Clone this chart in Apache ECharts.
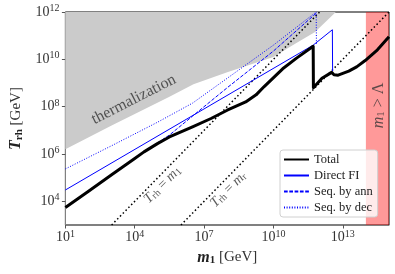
<!DOCTYPE html>
<html><head><meta charset="utf-8">
<script src="https://cdn.jsdelivr.net/npm/echarts@6/dist/echarts.min.js"></script>
<style>html,body{margin:0;padding:0;background:#fff}#c{width:395px;height:274px}</style>
</head><body><div id="c"></div>
<script>
// tick exponents (labels are 10^n)
const xTickExp = [1, 4, 7, 10, 13];
const yTickExp = [4, 6, 8, 10, 12];
// all curve values given as log10(m1/GeV), log10(Trh/GeV)
const totalLogM = [1, 2, 3, 4, 4.4, 5, 5.5, 6.5, 7.3, 8.0, 8.8, 9.25, 9.6, 10.4, 11.0, 11.72, 11.73, 12.1, 12.52, 12.62, 12.8, 13.26, 13.6, 13.97, 14.5, 15];
const totalLogT = [3.74, 4.43, 5.12, 5.81, 6.09, 6.45, 6.72, 7.15, 7.5, 7.85, 8.2, 8.5, 8.85, 9.6, 10.05, 10.55, 8.8, 9.2, 9.45, 9.35, 9.33, 9.5, 9.68, 9.95, 10.4, 10.95];
const directLogM = [1, 11.72, 12.55, 12.56];
const directLogT = [4.48, 10.6, 11.25, 9.5];
const annLogM = [4.4, 5.5, 6.5, 8.0, 10.0, 11.85];
const annLogT = [6.1, 6.8, 7.6, 8.8, 10.35, 11.95];
const decLogM = [1, 3, 5, 6.5, 8.0, 10.0, 11.85, 11.86];
const decLogT = [5.37, 6.35, 7.35, 8.15, 9.2, 10.6, 12.0, 10.65];
const thermLogM = [1, 3, 5.46, 6.54, 8.0, 10.0, 10.83, 11.8, 12.7];
const thermLogT = [6.2, 7.2, 8.4, 8.95, 9.45, 10.1, 10.6, 11.15, 12.0];
const trhEqM1LogM = [3, 12];
const trhEqM1LogT = [3, 12];
const trhEqMrLogM = [6, 15];
const trhEqMrLogT = [3, 12];
const lambdaLogM = [14, 15];
const legendNames = ['Total', 'Direct FI', 'Seq. by ann', 'Seq. by dec'];

const F = 'Liberation Serif';
const pairs = (xs, ys) => xs.map((x, i) => [Math.pow(10, x), Math.pow(10, ys[i])]);
const supFmt = v => '{b|10}{s|' + Math.round(Math.log10(v)) + '}';
const tickRich = {
  b: { fontSize: 14, fontFamily: F, color: '#333' },
  s: { fontSize: 10, fontFamily: F, color: '#333', padding: [0, 0, 7, 0] }
};
const lab = (txt, m, t, rot, size) => ({
  type: 'scatter', data: [[Math.pow(10, m), Math.pow(10, t)]], symbolSize: 0, silent: true, z: 6,
  label: { show: true, position: 'inside', rotate: rot, formatter: txt, fontFamily: F, fontSize: size || 12, color: '#333',
    rich: {
      i: { fontSize: 14, fontStyle: 'italic', fontFamily: F, color: '#333' },
      sb: { fontSize: 10, fontFamily: F, color: '#333', padding: [5, 0, 0, 0] },
      n: { fontSize: 14, fontFamily: F, color: '#333' },
      big: { fontSize: 16, fontFamily: F, color: '#333' },
      bi: { fontSize: 16, fontStyle: 'italic', fontFamily: F, color: '#333' },
      bs: { fontSize: 11, fontFamily: F, color: '#333', padding: [6, 0, 0, 0] }
    } }
});

const chart = echarts.init(document.getElementById('c'), null, { renderer: 'canvas' });
chart.setOption({
  animation: false,
  backgroundColor: '#fff',
  grid: { left: 61, right: 6, top: 12, bottom: 49, containLabel: false, show: true, borderColor: '#000', borderWidth: 1, backgroundColor: 'transparent' },
  legend: {
    data: legendNames, orient: 'vertical', left: 280, top: 150, itemWidth: 25, itemHeight: 10, itemGap: 3,
    itemStyle: { opacity: 0 },
    backgroundColor: 'rgba(255,255,255,0.8)', borderColor: '#d0d0d0', borderWidth: 1, borderRadius: 3,
    padding: [3, 5, 3, 3],
    textStyle: { fontFamily: F, fontSize: 12.5, color: '#222' }
  },
  xAxis: {
    type: 'log', logBase: 10, min: 1e1, max: 1e15,
    name: '{bi|m}{bs|1}{g| [GeV]}', nameLocation: 'middle', nameGap: 24,
    nameTextStyle: { rich: {
      bi: { fontSize: 16, fontStyle: 'italic', fontWeight: 'bold', fontFamily: F, color: '#222' },
      bs: { fontSize: 11, fontWeight: 'bold', fontFamily: F, color: '#222', padding: [6, 0, 0, 0] },
      g: { fontSize: 15, fontFamily: F, color: '#333' } } },
    axisLine: { lineStyle: { color: '#808080', width: 1 } },
    axisTick: { inside: false, length: 3.5, lineStyle: { color: '#555' }, customValues: xTickExp.map(e => Math.pow(10, e)) },
    axisLabel: { margin: 4, formatter: supFmt, rich: tickRich, customValues: xTickExp.map(e => Math.pow(10, e)) },
    splitLine: { show: false }, minorTick: { show: false }
  },
  yAxis: {
    type: 'log', logBase: 10, min: 1e3, max: 1e12,
    name: '{bi|T}{bs|rh}{g| [GeV]}', nameLocation: 'middle', nameGap: 39, nameRotate: 90,
    nameTextStyle: { rich: {
      bi: { fontSize: 16, fontStyle: 'italic', fontWeight: 'bold', fontFamily: F, color: '#222' },
      bs: { fontSize: 11, fontWeight: 'bold', fontFamily: F, color: '#222', padding: [6, 0, 0, 0] },
      g: { fontSize: 15, fontFamily: F, color: '#333' } } },
    axisLine: { lineStyle: { color: '#808080', width: 1 } },
    axisTick: { inside: false, length: 3.5, lineStyle: { color: '#555' }, customValues: yTickExp.map(e => Math.pow(10, e)) },
    axisLabel: { margin: 6, formatter: supFmt, rich: tickRich, customValues: yTickExp.map(e => Math.pow(10, e)) },
    splitLine: { show: false }, minorTick: { show: false }
  },
  series: [
    { name: 'thermalization', type: 'line', data: pairs(thermLogM, thermLogT), symbol: 'none', silent: true, z: 1,
      lineStyle: { width: 0 }, areaStyle: { color: '#cbcbcb', opacity: 1, origin: 'end' },
      markArea: { silent: true, itemStyle: { color: 'rgba(255,0,0,0.4)' },
        data: [[{ xAxis: Math.pow(10, lambdaLogM[0]) }, { xAxis: Math.pow(10, lambdaLogM[1]) }]] } },
    { name: 'Trh=m1', type: 'line', data: pairs(trhEqM1LogM, trhEqM1LogT), symbol: 'none', silent: true, z: 2,
      lineStyle: { color: '#000', width: 1.5, type: [1.5, 2.5] } },
    { name: 'Trh=mr', type: 'line', data: pairs(trhEqMrLogM, trhEqMrLogT), symbol: 'none', silent: true, z: 2,
      lineStyle: { color: '#000', width: 1.5, type: [1.5, 2.5] } },
    { name: 'Seq. by dec', type: 'line', data: pairs(decLogM, decLogT), symbol: 'none', z: 3,
      lineStyle: { color: '#0000ff', width: 1, type: [1, 1.6] }, itemStyle: { color: '#0000ff' } },
    { name: 'Seq. by ann', type: 'line', data: pairs(annLogM, annLogT), symbol: 'none', z: 3,
      lineStyle: { color: '#0000ff', width: 1, type: [3.7, 1.6] }, itemStyle: { color: '#0000ff' } },
    { name: 'Direct FI', type: 'line', data: pairs(directLogM, directLogT), symbol: 'none', z: 3,
      lineStyle: { color: '#0000ff', width: 1 }, itemStyle: { color: '#0000ff' } },
    { name: 'Total', type: 'line', data: pairs(totalLogM, totalLogT), symbol: 'none', z: 4,
      lineStyle: { color: '#000', width: 3, join: 'round' }, itemStyle: { color: '#000' } },
    lab('thermalization', 3.96, 8.3, 27, 16),
    lab('{i|T}{sb|rh}{n| = }{i|m}{sb|1}', 5.2, 4.7, 45),
    lab('{i|T}{sb|rh}{n| = }{i|m}{sb|r}', 8.05, 4.5, 45),
    lab('{bi|m}{bs|1}{big| > Λ}', 14.54, 8.05, 90)
  ]
});
</script></body></html>
